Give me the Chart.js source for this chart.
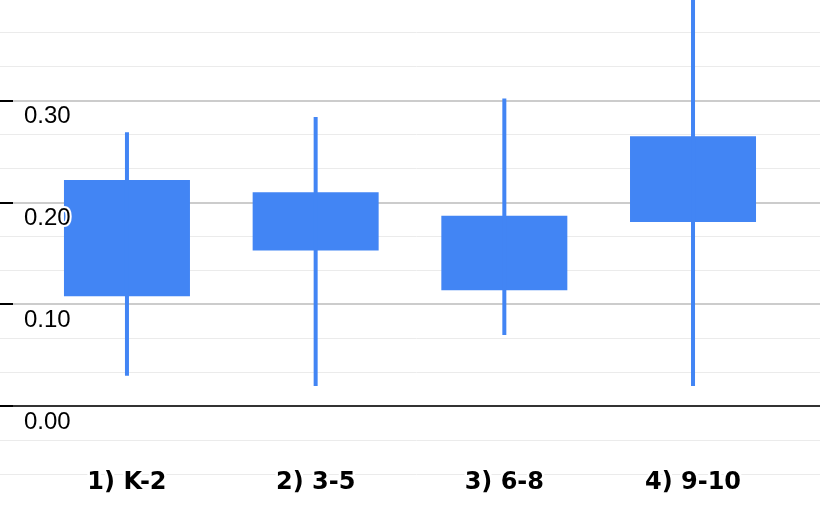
<!DOCTYPE html>
<html>
<head>
<meta charset="utf-8">
<script src="https://cdn.jsdelivr.net/npm/chart.js@4.4.1/dist/chart.umd.min.js"></script>
<style>
  html, body { margin: 0; padding: 0; background: #ffffff; }
  #wrap { position: relative; width: 820px; height: 508px; }
</style>
</head>
<body>
<div id="wrap"><canvas id="chart" width="820" height="508"></canvas></div>
<script>
// ---- data ----
const categories  = ['1) K-2', '2) 3-5', '3) 6-8', '4) 9-10'];
const whiskerLow  = [0.030, 0.020, 0.070, 0.020];
const boxLow      = [0.108, 0.153, 0.114, 0.181];
const boxHigh     = [0.222, 0.210, 0.187, 0.265];
const whiskerHigh = [0.269, 0.284, 0.302, 0.460];
const yMajorTicks = [-0.1, 0.0, 0.1, 0.2, 0.3, 0.4];
const yLabelTicks = [0.0, 0.1, 0.2, 0.3];
const minorPerMajor = 3;

const BLUE = '#4285f4';
const isMajor = v => Math.abs(v * 10 - Math.round(v * 10)) < 1e-6;
const isZero = v => Math.abs(v) < 1e-9;

const whiskerData = categories.map((c, i) => ({ x: i, y: [whiskerLow[i], whiskerHigh[i]] }));
const boxData = categories.map((c, i) => ({ x: i, y: [boxLow[i], boxHigh[i]] }));

const chart = new Chart(document.getElementById('chart'), {
  type: 'bar',
  data: {
    datasets: [
      { label: 'range', data: whiskerData, backgroundColor: BLUE, maxBarThickness: 4, grouped: false, clip: false, borderWidth: 0 },
      { label: 'box', data: boxData, backgroundColor: BLUE, maxBarThickness: 126, grouped: false, clip: false, borderWidth: 0 }
    ]
  },
  options: {
    responsive: false,
    animation: false,
    devicePixelRatio: 1,
    layout: { padding: { left: -22, top: 0, right: 0, bottom: 0 } },
    plugins: { legend: { display: false }, tooltip: { enabled: false } },
    scales: {
      x: {
        type: 'linear',
        offset: false,
        min: -0.604,
        max: 3.673,
        afterBuildTicks: s => { s.ticks = categories.map((c, i) => ({ value: i })); },
        grid: { display: false, offset: false },
        border: { display: false },
        ticks: {
          autoSkip: false,
          maxRotation: 0,
          mirror: true,
          padding: 0,
          z: 1,
          color: '#000000',
          textStrokeColor: '#ffffff',
          textStrokeWidth: 5,
          font: { family: 'DejaVu Sans', weight: 'bold', size: 24, lineHeight: '4px' },
          callback: v => categories[v]
        }
      },
      y: {
        type: 'linear',
        min: -0.0772,
        max: 0.3762,
        afterBuildTicks: s => {
          const t = [];
          for (let k = 0; k < yMajorTicks.length; k++) {
            t.push(yMajorTicks[k]);
            if (k < yMajorTicks.length - 1) {
              const step = (yMajorTicks[k + 1] - yMajorTicks[k]) / minorPerMajor;
              for (let m = 1; m < minorPerMajor; m++) t.push(yMajorTicks[k] + m * step);
            }
          }
          s.ticks = t.filter(v => v >= s.min - 1e-9 && v <= s.max + 1e-9).map(v => ({ value: v }));
        },
        border: { display: false },
        grid: {
          drawTicks: true,
          tickLength: 13,
          color: c => isZero(c.tick.value) ? '#333333' : (isMajor(c.tick.value) ? '#cccccc' : '#ebebeb'),
          lineWidth: c => isMajor(c.tick.value) ? 2 : 1,
          tickColor: c => isMajor(c.tick.value) ? '#000000' : '#ebebeb',
          tickWidth: c => isMajor(c.tick.value) ? 2 : 1
        },
        ticks: {
          mirror: true,
          padding: 11,
          labelOffset: 16,
          autoSkip: false,
          z: 1,
          color: '#000000',
          textStrokeColor: '#ffffff',
          textStrokeWidth: 4,
          font: { family: 'Liberation Sans', size: 24, lineHeight: 1 },
          callback: v => yLabelTicks.some(t => Math.abs(t - v) < 1e-6) ? v.toFixed(2) : ''
        }
      }
    }
  }
});
</script>
</body>
</html>
